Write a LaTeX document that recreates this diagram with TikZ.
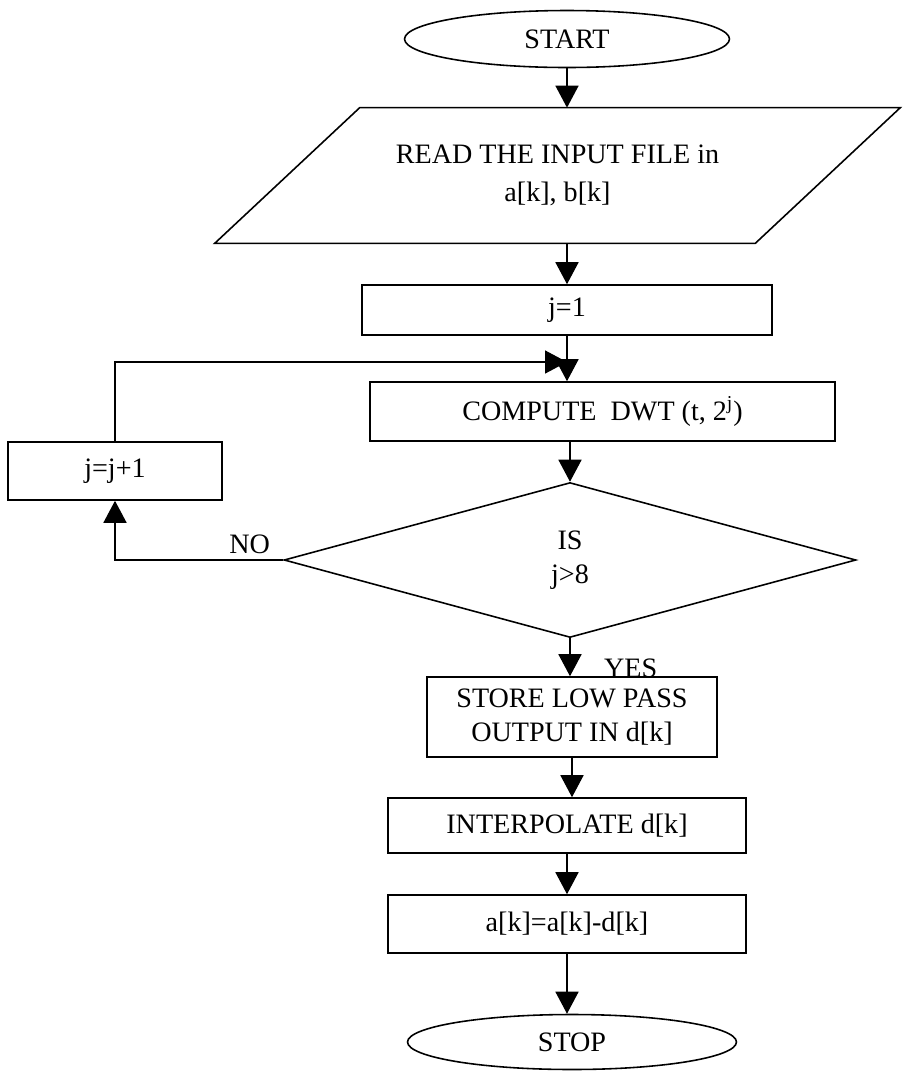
\documentclass[tikz,border=0pt]{standalone}
\usepackage{fontspec}
\setmainfont{Liberation Serif}
\usetikzlibrary{shapes.geometric,arrows.meta,calc}
\begin{document}
\begin{tikzpicture}[x=0.02cm, y=-0.02cm,
    every node/.style={font=\fontsize{16}{19}\selectfont},
    term/.style={ellipse, draw, line width=0.9pt, inner sep=0pt},
    proc/.style={rectangle, draw, line width=0.9pt, inner sep=0pt, align=center},
    decision/.style={diamond, draw, line width=0.9pt, inner sep=0pt, align=center,
        minimum width=11.44cm, minimum height=3.1cm},
    flow/.style={-{Triangle[length=0.44cm, width=0.46cm]}, line width=0.9pt}]
\useasboundingbox (0,0) rectangle (905,1073);
\node[term, minimum width=6.5cm, minimum height=1.14cm] (start) at (567,39) {START};
\node[align=center, inner sep=0pt, minimum width=13.7cm, minimum height=2.7cm] (read) at (557.5,175.5)
    {READ THE INPUT FILE in\\[3pt]a[k], b[k]};
\draw[line width=0.9pt] ($(read.north west)+(145,0)$) -- (read.north east)
    -- ($(read.south east)+(-145,0)$) -- (read.south west) -- cycle;
\node[proc, minimum width=8.2cm, minimum height=1cm] (j1) at (567,310) {j=1};
\node[proc, minimum width=9.3cm, minimum height=1.18cm] (compute) at (602.5,411.5)
    {COMPUTE~~DWT (t, 2\textsuperscript{j})};
\node[decision] (test) at (570,560) {IS\\j>8};
\node[proc, minimum width=4.28cm, minimum height=1.16cm] (incr) at (115,471) {j=j+1};
\node[proc, minimum width=5.8cm, minimum height=1.6cm] (store) at (572,717)
    {STORE LOW PASS\\OUTPUT IN d[k]};
\node[proc, minimum width=7.16cm, minimum height=1.1cm] (interp) at (567,825.5) {INTERPOLATE d[k]};
\node[proc, minimum width=7.16cm, minimum height=1.16cm] (sub) at (567,924) {a[k]=a[k]-d[k]};
\node[term, minimum width=6.58cm, minimum height=1.1cm] (stop) at (572,1042) {STOP};
\coordinate (merge) at (567,362);
% main flow
\draw[flow] (start.south) -- (start.south |- read.north);
\draw[flow] (read.south -| j1.north) -- (j1.north);
\draw[flow] (j1.south) -- (j1.south |- compute.north);
\draw[flow] (compute.south -| test.north) -- (test.north);
\draw[flow] (test.south) -- node[pos=0.78, anchor=west, xshift=0.55cm]{YES} (test.south |- store.north);
\draw[flow] (store.south) -- (store.south |- interp.north);
\draw[flow] (interp.south) -- (interp.south |- sub.north);
\draw[flow] (sub.south) -- (sub.south |- stop.north);
% loop back
\draw[flow] (test.west) -| node[pos=0.1, above]{NO} (incr.south);
\draw[flow] (incr.north) |- (merge);
\end{tikzpicture}
\end{document}
